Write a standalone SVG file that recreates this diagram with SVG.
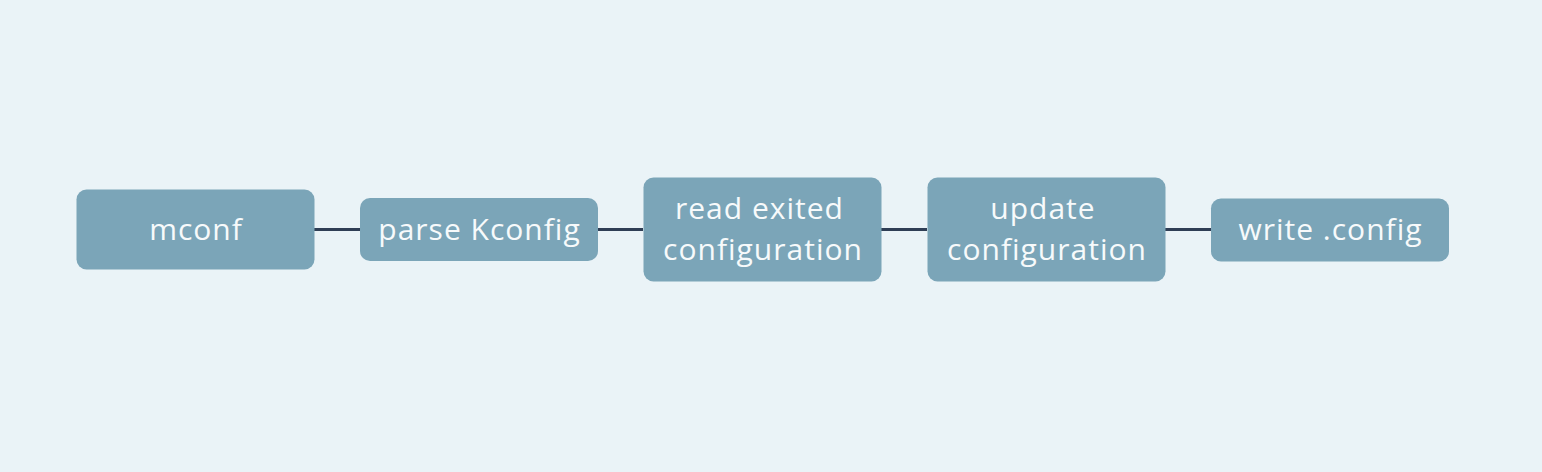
<svg xmlns="http://www.w3.org/2000/svg" width="1542" height="472" viewBox="0 0 1542 472">
<style>
.node{fill:#7ba5b8}
.t{font-family:"Open Sans","Liberation Sans",sans-serif;font-size:30px;letter-spacing:1px;fill:#f7fafb;text-anchor:middle;font-variant-ligatures:none}
.edge{stroke:#2f3e55;stroke-width:3;fill:none}
</style>
<rect width="1542" height="472" fill="#eaf3f7"/>
<g id="connectors">
<line class="edge" x1="314" y1="229.5" x2="360" y2="229.5"/>
<line class="edge" x1="598" y1="229.5" x2="643" y2="229.5"/>
<line class="edge" x1="881" y1="229.5" x2="927" y2="229.5"/>
<line class="edge" x1="1165" y1="229.5" x2="1211" y2="229.5"/>
</g>
<g id="mconf">
<rect class="node" x="76.5" y="189.5" width="238" height="80" rx="10"/>
<text class="t" x="196" y="240">mconf</text>
</g>
<g id="parse">
<rect class="node" x="360" y="198" width="238" height="63" rx="10"/>
<text class="t" x="479.5" y="240">parse Kconfig</text>
</g>
<g id="read">
<rect class="node" x="643.5" y="177.5" width="238" height="104" rx="10"/>
<text class="t" x="759.5" y="219">read exited</text>
<text class="t" x="763" y="260">configuration</text>
</g>
<g id="update">
<rect class="node" x="927.5" y="177.5" width="238" height="104" rx="10"/>
<text class="t" x="1043" y="219">update</text>
<text class="t" x="1047" y="260">configuration</text>
</g>
<g id="write">
<rect class="node" x="1211" y="198.5" width="238" height="63" rx="10"/>
<text class="t" x="1330.5" y="240">write .config</text>
</g>
</svg>
